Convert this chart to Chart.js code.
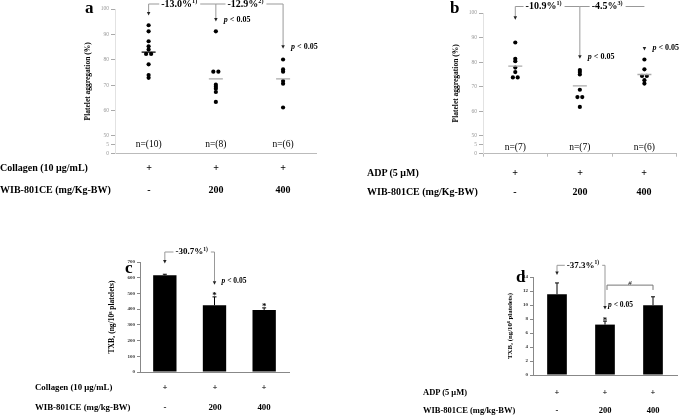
<!DOCTYPE html>
<html>
<head>
<meta charset="utf-8">
<script src="https://cdn.jsdelivr.net/npm/chart.js@4.4.0/dist/chart.umd.min.js"></script>
<style>
html, body { margin: 0; padding: 0; background: #fff; }
#fig { position: relative; width: 685px; height: 415px; overflow: hidden; font-family: "Liberation Serif", "Times New Roman", serif; }
#fig canvas { position: absolute; }
.lbl { position: absolute; white-space: nowrap; font-weight: bold; color: #000; line-height: 1; will-change: transform; }
.ctr { width: 40px; text-align: center; }
.letter { position: absolute; font-weight: bold; font-size: 17px; line-height: 1; }
</style>
</head>
<body>
<div id="fig">
  <canvas id="chartA" width="245" height="162" style="left:80px;top:0px"></canvas>
  <canvas id="chartB" width="237" height="162" style="left:448px;top:0px"></canvas>
  <canvas id="chartC" width="190" height="132" style="left:105px;top:245px"></canvas>
  <canvas id="chartD" width="185" height="125" style="left:498px;top:255px"></canvas>
  <div class="letter" style="left:85px;top:-1px">a</div>
  <div class="letter" style="left:450px;top:-1px">b</div>
  <div class="letter" style="left:125px;top:259px">c</div>
  <div class="letter" style="left:516px;top:268px">d</div>
</div>
<script>
// --- DATA ---
const doseLabels = ['-', '200', '400'];
const plusLabels = ['+', '+', '+'];

// platelet aggregation (%), one array per group
const aggCollagen0 = [93.6, 91.2, 87.3, 85.3, 84.0, 82.3, 82.3, 78.2, 74.0, 72.9];
const aggCollagen200 = [91.2, 75.3, 75.3, 70.2, 69.4, 68.6, 67.3, 63.4];
const aggCollagen400 = [80.1, 76.2, 75.3, 71.6, 70.6, 61.2];
const meanCollagen = [83.0, 72.5, 72.5];
const nCollagen = [10, 8, 6];

const aggADP0 = [88.0, 81.4, 80.4, 77.8, 76.0, 73.8, 73.8];
const aggADP200 = [76.8, 76.0, 75.0, 68.8, 65.8, 65.8, 61.8];
const aggADP400 = [81.1, 77.1, 74.4, 74.4, 72.7, 71.3];
const meanADP = [78.4, 70.4, 75.0];
const nADP = [7, 7, 6];

const aggTicks = [0, 5, 50, 60, 70, 80, 90, 100];
const arrowTipsA = [97.4, 95.1, 84.3];
const arrowTipsB = [97.3, 81.4, 84.8];

// TXB2
const txbCollagen = [615, 425, 395];
const txbCollagenErr = [7, 53, 13];
const txbCollagenTicks = [0, 100, 200, 300, 400, 500, 600, 700];
const arrowTipsC = [690, 556];

const txbADP = [11.55, 7.2, 9.97];
const txbADPErr = [1.6, 0.5, 1.2];
const txbADPTicks = [0, 2, 4, 6, 8, 10, 12, 14];
const arrowTipsD = [14.3, 9.37];
const hashBracketD = [12.15, 12.84];

// --- HELPERS ---
const FONT = '"Liberation Serif", "Times New Roman", serif';

// squeeze 0..50 into two short segments (broken axis)
function brokenMap(v, s) {
  if (v >= 50) return v;
  const base = 50 - 2 * s;
  if (v <= 5) return base + v / 5 * s;
  return base + s + (v - 5) / 45 * s;
}

// place equal values side by side
function spreadX(vals, g, step) {
  return vals.map((v, i) => {
    const same = vals.filter(w => w === v).length;
    const k = vals.slice(0, i).filter(w => w === v).length;
    return { x: g + (k - (same - 1) / 2) * step, y: v };
  });
}

function tri(ctx, x, y, s) {
  ctx.beginPath();
  ctx.moveTo(x - s / 2, y - s);
  ctx.lineTo(x + s / 2, y - s);
  ctx.lineTo(x, y);
  ctx.closePath();
  ctx.fill();
}

function drop(ctx, x, y0, y1) {
  ctx.beginPath();
  ctx.moveTo(x, y0);
  ctx.lineTo(x, y1 - 3);
  ctx.stroke();
  tri(ctx, x, y1, 3.5);
}

function pctLabel(ctx, text, sup, cx, y, size) {
  ctx.font = `bold ${size}px ${FONT}`;
  const w1 = ctx.measureText(text).width;
  ctx.font = `bold ${size * 0.62}px ${FONT}`;
  const w2 = ctx.measureText(sup).width;
  const left = cx - (w1 + w2) / 2;
  ctx.textBaseline = 'middle';
  ctx.textAlign = 'left';
  ctx.fillStyle = '#000';
  ctx.font = `bold ${size}px ${FONT}`;
  ctx.fillText(text, left, y);
  ctx.font = `bold ${size * 0.62}px ${FONT}`;
  ctx.fillText(sup, left + w1, y - size * 0.3);
  return [left, left + w1 + w2];
}

function bracket(ctx, x0, x1, y, text, sup, size, shift) {
  const [l, r] = pctLabel(ctx, text, sup, (x0 + x1) / 2 + shift, y, size);
  ctx.beginPath();
  ctx.moveTo(x0, y); ctx.lineTo(l - 2, y);
  ctx.moveTo(r + 3, y); ctx.lineTo(x1, y);
  ctx.stroke();
}

function pLabel(ctx, x, y, size) {
  ctx.textBaseline = 'middle';
  ctx.textAlign = 'left';
  ctx.fillStyle = '#000';
  ctx.font = `italic bold ${size}px ${FONT}`;
  ctx.fillText('p', x, y);
  const w = ctx.measureText('p').width;
  ctx.font = `bold ${size}px ${FONT}`;
  ctx.fillText(' < 0.05', x + w, y);
}

// --- DOT PLOTS (a, b) ---
function dotChart(id, groups, means, meanColors, seg, padding, title, extra) {
  const dots = groups.flatMap((vals, g) => spreadX(vals, g, 0.075));
  return new Chart(document.getElementById(id), {
    type: 'scatter',
    data: {
      datasets: [
        {
          data: means.map((m, g) => ({ x: g, y: m })),
          pointStyle: 'line', pointRadius: 7, pointBorderWidth: 1.3,
          pointBorderColor: meanColors, order: 0
        },
        {
          data: dots, pointRadius: 2.1, pointBorderWidth: 0,
          pointBackgroundColor: '#000', order: 1
        }
      ]
    },
    options: {
      animation: false, responsive: false,
      layout: { padding },
      plugins: { legend: { display: false }, tooltip: { enabled: false } },
      scales: {
        x: {
          type: 'linear', min: -0.5, max: 2.5,
          afterBuildTicks: s => { s.ticks = [-0.5, 0.5, 1.5, 2.5].map(v => ({ value: v })); },
          ticks: { display: false },
          grid: { display: extra.xTicks, drawOnChartArea: false, tickLength: 3, color: '#bbb' },
          border: { color: '#bbb' },
          afterFit: s => { s.height = 0; }
        },
        y: {
          type: 'linear', min: brokenMap(0, seg), max: 100,
          afterBuildTicks: s => { s.ticks = aggTicks.map(v => ({ value: brokenMap(v, seg) })); },
          ticks: {
            callback: (v, i) => aggTicks[i],
            font: { family: FONT, size: 5.5 }, color: '#999', padding: 2
          },
          grid: { drawOnChartArea: false, tickLength: 4, color: '#aaa' },
          border: { color: '#e2e2e2' },
          title: {
            display: true, text: title, color: '#000',
            font: { family: FONT, size: 7.5, weight: 'bold' }, padding: { top: 4, bottom: 0 }
          },
          afterFit: s => { s.width = 35; }
        }
      }
    },
    plugins: [{
      id: 'notes',
      afterDraw(chart) {
        const xs = chart.scales.x, ys = chart.scales.y, ctx = chart.ctx;
        const top = chart.chartArea.top - extra.bracketUp;
        ctx.save();
        ctx.strokeStyle = '#999';
        ctx.lineWidth = 1;
        extra.tips.forEach((v, g) => {
          const x = xs.getPixelForValue(g), y = ys.getPixelForValue(v);
          ctx.fillStyle = '#222';
          if (extra.drops[g]) drop(ctx, x, top, y);
          else tri(ctx, x, y, 3.5);
        });
        extra.brackets.forEach(b => {
          bracket(ctx, xs.getPixelForValue(b.from), xs.getPixelForValue(b.to), top, b.text, b.sup, 10, b.shift);
        });
        extra.pGroups.forEach(g => {
          pLabel(ctx, xs.getPixelForValue(g) + 8, ys.getPixelForValue(extra.tips[g]) - 2, 8);
        });
        ctx.fillStyle = '#000';
        ctx.font = `${9.5}px ${FONT}`;
        ctx.textAlign = 'center';
        ctx.textBaseline = 'middle';
        extra.n.forEach((n, g) => {
          ctx.fillText(`n=(${n})`, xs.getPixelForValue(g), ys.getPixelForValue(brokenMap(extra.nLevel, seg)));
        });
        ctx.restore();
      }
    }]
  });
}

// --- BAR CHARTS (c, d) ---
function barChart(id, vals, errs, ticks, padding, titlePad, extra) {
  return new Chart(document.getElementById(id), {
    type: 'bar',
    data: {
      labels: doseLabels,
      datasets: [{
        data: vals, backgroundColor: '#000', borderWidth: 0,
        barPercentage: extra.barPct, categoryPercentage: 1
      }]
    },
    options: {
      animation: false, responsive: false,
      layout: { padding },
      plugins: { legend: { display: false }, tooltip: { enabled: false } },
      scales: {
        x: {
          ticks: { display: false },
          grid: { display: false },
          border: { color: '#888' },
          afterFit: s => { s.height = 0; }
        },
        y: {
          min: ticks[0], max: ticks[ticks.length - 1],
          afterBuildTicks: s => { s.ticks = ticks.map(v => ({ value: v })); },
          ticks: { font: { family: FONT, size: 5, weight: 'bold' }, color: '#333', padding: 2 },
          grid: { drawOnChartArea: false, tickLength: 3, color: '#888' },
          border: { color: '#888' },
          title: {
            display: true, text: 'TXB\u2082 (ng/10\u2078 platelets)', color: '#000',
            font: { family: FONT, size: extra.titleSize, weight: 'bold' }, padding: { top: titlePad, bottom: 0 }
          },
          afterFit: s => { s.width = 35; }
        }
      }
    },
    plugins: [{
      id: 'notes',
      afterDraw(chart) {
        const ys = chart.scales.y, ctx = chart.ctx;
        const bars = chart.getDatasetMeta(0).data;
        ctx.save();
        // error bars
        ctx.strokeStyle = '#000';
        ctx.lineWidth = 1;
        const errTop = bars.map((b, i) => ys.getPixelForValue(vals[i] + errs[i]));
        bars.forEach((b, i) => {
          ctx.beginPath();
          ctx.moveTo(b.x, b.y); ctx.lineTo(b.x, errTop[i]);
          ctx.moveTo(b.x - 2, errTop[i]); ctx.lineTo(b.x + 2, errTop[i]);
          ctx.stroke();
        });
        ctx.fillStyle = '#000';
        ctx.font = `bold 9px ${FONT}`;
        ctx.textAlign = 'center';
        ctx.textBaseline = 'alphabetic';
        extra.stars.forEach(i => ctx.fillText('*', bars[i].x, errTop[i] + 1.5));
        // arrows and percent bracket
        const top = chart.chartArea.top - extra.bracketUp;
        ctx.strokeStyle = '#999';
        ctx.fillStyle = '#222';
        extra.tips.forEach((v, i) => drop(ctx, bars[i].x, top, ys.getPixelForValue(v)));
        bracket(ctx, bars[0].x, bars[1].x, top, extra.text, '1)', 9, 2);
        pLabel(ctx, bars[1].x + extra.pDx, ys.getPixelForValue(extra.tips[1]) - 4, 7.5);
        if (extra.hash) {
          const x0 = bars[1].x + 2, x1 = bars[2].x;
          const yLow = ys.getPixelForValue(extra.hash[0]), yHigh = ys.getPixelForValue(extra.hash[1]);
          ctx.strokeStyle = '#777';
          ctx.beginPath();
          ctx.moveTo(x0, yLow); ctx.lineTo(x0, yHigh); ctx.lineTo(x1, yHigh); ctx.lineTo(x1, yLow);
          ctx.stroke();
          ctx.fillStyle = '#000';
          ctx.font = `italic 7px ${FONT}`;
          ctx.textAlign = 'center';
          ctx.fillText('#', (x0 + x1) / 2, yHigh - 2);
        }
        ctx.restore();
      }
    }]
  });
}

// --- ROW LABELS UNDER EACH PANEL ---
function addRow(chart, canvasLeft, text, left, y, values, size) {
  const fig = document.getElementById('fig');
  const mk = (t, x, centered) => {
    const d = document.createElement('div');
    d.className = centered ? 'lbl ctr' : 'lbl';
    d.textContent = t;
    d.style.fontSize = size + 'px';
    d.style.left = Math.round(centered ? x - 20 : x) + 'px';
    d.style.top = Math.round(y - size * 0.5) + 'px';
    fig.appendChild(d);
  };
  mk(text, left, false);
  const xs = chart.scales.x;
  values.forEach((v, i) => mk(v, canvasLeft + xs.getPixelForValue(i), true));
}

// --- INIT ---
const chartA = dotChart('chartA', [aggCollagen0, aggCollagen200, aggCollagen400], meanCollagen,
  ['#000', '#aaa', '#aaa'], 3.5, { top: 9, right: 5, bottom: 7, left: 0 }, 'Platelet aggregation (%)', {
    xTicks: false, bracketUp: 5, tips: arrowTipsA, drops: [true, true, true],
    brackets: [{ from: 0, to: 1, text: '-13.0%', sup: '1)', shift: -3 },
               { from: 1, to: 2, text: '-12.9%', sup: '2)', shift: -4 }],
    pGroups: [1, 2], n: nCollagen, nLevel: 5
  });

const chartB = dotChart('chartB', [aggADP0, aggADP200, aggADP400], meanADP,
  ['#aaa', '#aaa', '#aaa'], 3.6, { top: 13, right: 1, bottom: 6, left: 0 }, 'Platelet aggregation (%)', {
    xTicks: true, bracketUp: 6.5, tips: arrowTipsB, drops: [true, true, false],
    brackets: [{ from: 0, to: 1, text: '-10.9%', sup: '1)', shift: -4 },
               { from: 1, to: 2, text: '-4.5%', sup: '3)', shift: -5 }],
    pGroups: [1, 2], n: nADP, nLevel: 3.5
  });

const chartC = barChart('chartC', txbCollagen, txbCollagenErr, txbCollagenTicks,
  { top: 17, right: 6, bottom: 5, left: 0 }, 3, {
    barPct: 0.47, titleSize: 7.5, stars: [1, 2], bracketUp: 10, tips: arrowTipsC,
    text: '-30.7%', pDx: 7
  });

const chartD = barChart('chartD', txbADP, txbADPErr, txbADPTicks,
  { top: 22, right: 6, bottom: 3, left: 0 }, 8, {
    barPct: 0.41, titleSize: 6.8, stars: [1], bracketUp: 11.7, tips: arrowTipsD,
    text: '-37.3%', pDx: 3, hash: hashBracketD
  });

addRow(chartA, 80, 'Collagen (10 \u03bcg/mL)', 0, 168, plusLabels, 10);
addRow(chartA, 80, 'WIB-801CE (mg/Kg-BW)', 0, 190, doseLabels, 10);
addRow(chartB, 448, 'ADP (5 \u03bcM)', 367, 173, plusLabels, 10);
addRow(chartB, 448, 'WIB-801CE (mg/Kg-BW)', 367, 192, doseLabels, 10);
addRow(chartC, 105, 'Collagen (10 \u03bcg/mL)', 35, 387, plusLabels, 8.8);
addRow(chartC, 105, 'WIB-801CE (mg/kg-BW)', 35, 407, doseLabels, 8.8);
addRow(chartD, 498, 'ADP (5 \u03bcM)', 423, 392, plusLabels, 8.5);
addRow(chartD, 498, 'WIB-801CE (mg/kg-BW)', 423, 410, doseLabels, 8.5);
</script>
</body>
</html>
